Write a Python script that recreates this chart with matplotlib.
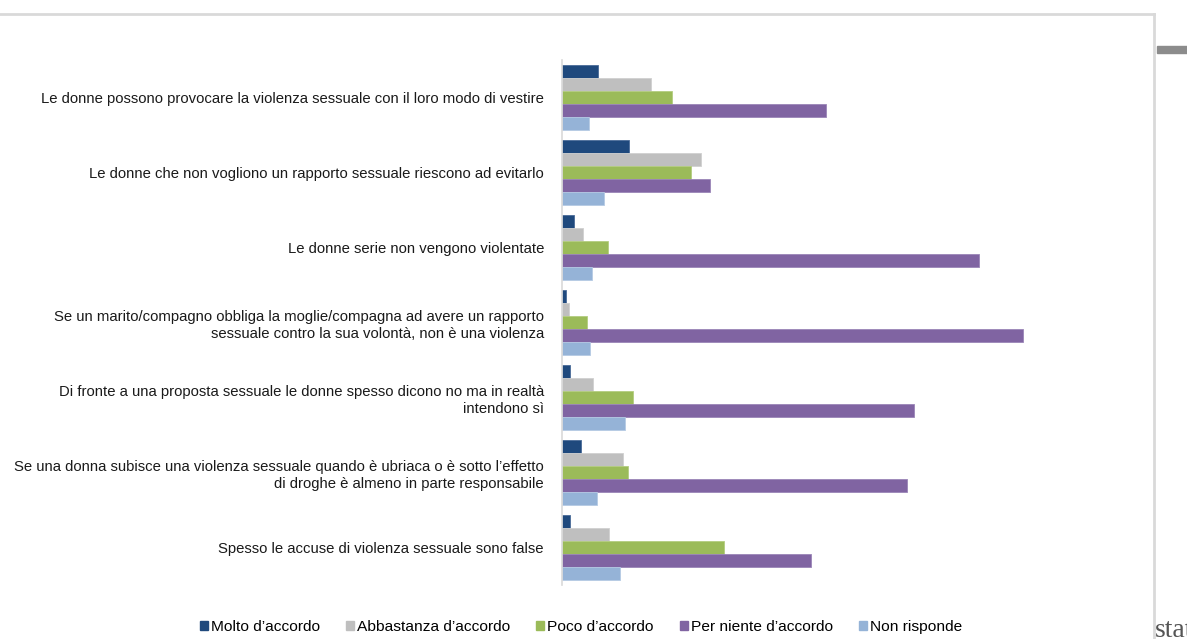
import matplotlib.pyplot as plt
import matplotlib.lines as mlines
import matplotlib.patches as mpatches
import numpy as np
from matplotlib import font_manager

# --- DATA ---
statements = [
    "Le donne possono provocare la violenza sessuale con il loro modo di vestire",
    "Le donne che non vogliono un rapporto sessuale riescono ad evitarlo",
    "Le donne serie non vengono violentate",
    "Se un marito/compagno obbliga la moglie/compagna ad avere un rapporto\nsessuale contro la sua volontà, non è una violenza",
    "Di fronte a una proposta sessuale le donne spesso dicono no ma in realtà\nintendono sì",
    "Se una donna subisce una violenza sessuale quando è ubriaca o è sotto l\u2019effetto\ndi droghe è almeno in parte responsabile",
    "Spesso le accuse di violenza sessuale sono false",
]
series_names = ["Molto d\u2019accordo", "Abbastanza d\u2019accordo", "Poco d\u2019accordo",
                "Per niente d\u2019accordo", "Non risponde"]
molto = [6.9, 12.8, 2.2, 0.7, 1.6, 3.6, 1.6]
abbastanza = [16.9, 26.5, 4.0, 1.3, 5.9, 11.7, 8.9]
poco = [20.9, 24.6, 8.7, 4.7, 13.5, 12.6, 30.9]
per_niente = [50.3, 28.2, 79.5, 87.9, 67.1, 65.8, 47.6]
non_risponde = [5.1, 8.0, 5.7, 5.3, 12.0, 6.6, 11.1]

colors = ["#1F497D", "#BFBFBF", "#9BBB59", "#8064A2", "#95B3D7"]
edges = ["#4A6C99", "#D0D0D0", "#B4CD80", "#9A85B8", "#B5CAE4"]

names = {f.name for f in font_manager.fontManager.ttflist}
if "Liberation Sans Narrow" in names:
    plt.rcParams["font.family"] = ["Liberation Sans Narrow", "DejaVu Sans"]
    lab_size = 12.5
else:
    plt.rcParams["font.family"] = ["Liberation Sans", "DejaVu Sans"]
    lab_size = 10.7

fig = plt.figure(figsize=(11.87, 6.39), dpi=100)
ax = fig.add_axes([562 / 1187, 54 / 639, 524 / 1187, 525 / 639])

values = [molto, abbastanza, poco, per_niente, non_risponde]
y = np.arange(len(statements))
h = 13 / 75
for j, vals in enumerate(values):
    ax.barh(y + (j - 2) * h, vals, height=h, color=colors[j], edgecolor=edges[j],
            linewidth=0.6, label=series_names[j])

ax.set_ylim(len(statements) - 0.5, -0.5)
ax.set_xlim(0, 100)
ax.set_yticks(y)
ax.set_yticklabels(statements, fontsize=lab_size, color="#1a1a1a", linespacing=1.3)
ax.tick_params(axis="y", length=0, pad=13)
ax.set_xticks([])
for s in ["top", "right", "bottom"]:
    ax.spines[s].set_visible(False)
ax.spines["left"].set_color("#D9D9D9")
ax.spines["left"].set_linewidth(1.2)

handles = [mpatches.Patch(color=c) for c in colors]
fig.legend(handles, series_names, loc="center", bbox_to_anchor=(581 / 1187, 1 - 627 / 639),
           ncol=5, frameon=False, fontsize=lab_size * 1.04, handlelength=0.5,
           handleheight=0.5, handletextpad=0.2, columnspacing=1.7)

# frame of the chart area and page decorations
fig.add_artist(mlines.Line2D([0, 1154 / 1187], [1 - 14 / 639] * 2, color="#D9D9D9", lw=2))
fig.add_artist(mlines.Line2D([1154 / 1187] * 2, [0, 1 - 14 / 639], color="#D9D9D9", lw=2))
fig.add_artist(mpatches.Rectangle((1157 / 1187, 1 - 53 / 639), 30 / 1187, 7 / 639,
                                  transform=fig.transFigure, color="#8C8C8C"))
fig.text(1155 / 1187, 1 - 637 / 639, "stat", family="Liberation Serif", fontsize=20,
         color="#555555", ha="left", va="baseline")

fig.savefig("out.png", dpi=100)
